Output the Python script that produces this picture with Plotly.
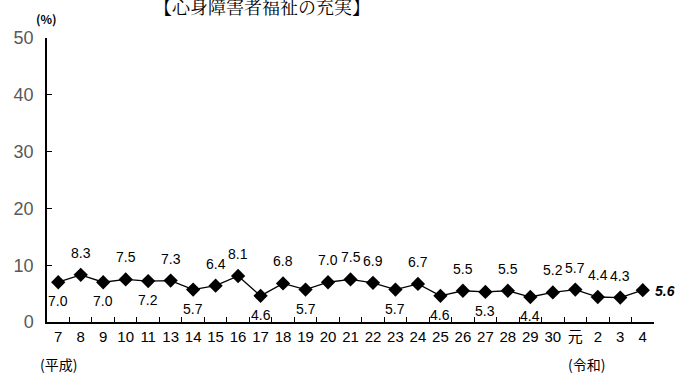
import plotly.graph_objects as go

categories = ["7", "8", "9", "10", "11", "13", "14", "15", "16", "17", "18", "19", "20",
              "21", "22", "23", "24", "25", "26", "27", "28", "29", "30", "元", "2", "3", "4"]
values = [7.0, 8.3, 7.0, 7.5, 7.2, 7.3, 5.7, 6.4, 8.1, 4.6, 6.8, 5.7, 7.0,
          7.5, 6.9, 5.7, 6.7, 4.6, 5.5, 5.3, 5.5, 4.4, 5.2, 5.7, 4.4, 4.3, 5.6]
# label placement: 'a' above, 'b' below, 'r' right
label_pos = ["b", "a", "b", "a", "b", "a", "b", "a", "a", "b", "a", "b", "a",
             "a", "a", "b", "a", "b", "a", "b", "a", "b", "a", "a", "a", "a", "r"]
y_ticks = [0, 10, 20, 30, 40, 50]

num_font = "Liberation Sans, Arial, sans-serif"
cjk_font = "Noto Sans CJK JP, sans-serif"
title_font = "Noto Serif CJK JP, Noto Sans CJK JP, serif"

fig = go.Figure()
fig.add_trace(go.Scatter(
    x=categories, y=values, mode="lines+markers",
    line=dict(color="black", width=1.3),
    marker=dict(symbol="diamond", size=11, color="black"),
    cliponaxis=False, showlegend=False,
))

annotations = []
for i, (c, v, p) in enumerate(zip(categories, values, label_pos)):
    if p == "r":
        annotations.append(dict(x=i, y=v, xref="x", yref="y", text=f"<b><i>{v:.1f}</i></b>",
                                showarrow=False, xanchor="left", xshift=10, yshift=-1,
                                font=dict(family=num_font, size=14, color="black")))
    else:
        annotations.append(dict(x=i, y=v, xref="x", yref="y", text=f"{v:.1f}",
                                showarrow=False, xanchor="center",
                                yshift=22 if p == "a" else -19,
                                font=dict(family=num_font, size=14, color="black")))

annotations.append(dict(x=0, y=0, xref="x", yref="paper", text="(平成)", showarrow=False,
                        yanchor="middle", yshift=-42, font=dict(family=cjk_font, size=14, color="black")))
annotations.append(dict(x=23.5, y=0, xref="x", yref="paper", text="(令和)", showarrow=False,
                        yanchor="middle", yshift=-42, font=dict(family=cjk_font, size=14, color="black")))
annotations.append(dict(x=0, y=1, xref="paper", yref="paper", text="<b>(%)</b>", showarrow=False,
                        xanchor="center", yanchor="middle", xshift=-1, yshift=20,
                        font=dict(family=cjk_font, size=12, color="black")))
annotations.append(dict(x=0.354, y=1.0, xref="paper", yref="paper", text="【心身障害者福祉の充実】",
                        showarrow=False, yanchor="middle", yshift=32,
                        font=dict(family=title_font, size=18, color="black")))

fig.update_layout(
    width=681, height=376,
    margin=dict(l=47, r=27, t=38, b=54),
    paper_bgcolor="white", plot_bgcolor="white",
    annotations=annotations,
    xaxis=dict(
        type="category", range=[-0.5, len(categories) - 0.5],
        showline=True, linecolor="black", linewidth=1.5,
        ticks="inside", tickson="boundaries", ticklen=5, tickcolor="black",
        showgrid=False, tickangle=0, automargin=False,
        tickfont=dict(family=num_font + ", Noto Sans CJK JP", size=15, color="black"),
    ),
    yaxis=dict(
        range=[0, 50], tickvals=y_ticks,
        showline=True, linecolor="black", linewidth=1.5,
        ticks="inside", ticklen=5, tickcolor="black",
        showgrid=False, zeroline=False, automargin=False, ticklabelstandoff=8,
        tickfont=dict(family=num_font, size=18, color="#595959"),
    ),
)

fig.write_html(
    "out.html",
    config={"displayModeBar": False},
    post_script="document.body.style.margin='0';document.body.style.overflow='hidden';",
)
